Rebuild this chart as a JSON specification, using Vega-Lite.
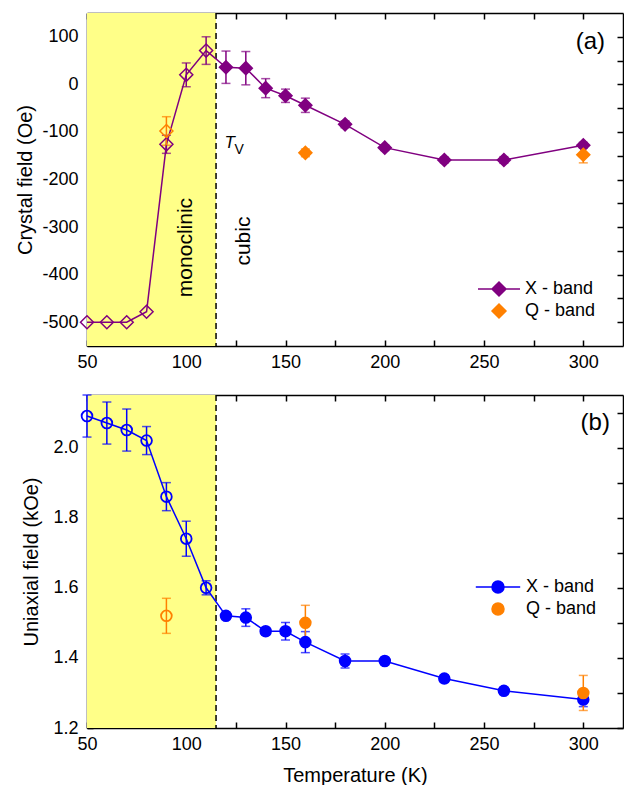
{
  "$schema": "https://vega.github.io/schema/vega-lite/v6.json",
  "padding": {"left": 15, "top": 12, "right": 0, "bottom": 0},
  "spacing": 49,
  "bounds": "flush",
  "resolve": {
    "scale": {"color": "independent", "fill": "independent", "stroke": "independent", "shape": "independent"},
    "legend": {"color": "independent", "fill": "independent", "stroke": "independent", "shape": "independent"}
  },
  "datasets": {
    "cf": [
      {"T": 50, "v": -500, "e": 0, "band": "X - band"},
      {"T": 60, "v": -500, "e": 0, "band": "X - band"},
      {"T": 70, "v": -500, "e": 0, "band": "X - band"},
      {"T": 80, "v": -478, "e": 0, "band": "X - band"},
      {"T": 90, "v": -126, "e": 19, "band": "X - band"},
      {"T": 100, "v": 20, "e": 25, "band": "X - band"},
      {"T": 110, "v": 71, "e": 29, "band": "X - band"},
      {"T": 120, "v": 36, "e": 34, "band": "X - band"},
      {"T": 130, "v": 34, "e": 35, "band": "X - band"},
      {"T": 140, "v": -8, "e": 20, "band": "X - band"},
      {"T": 150, "v": -24, "e": 14, "band": "X - band"},
      {"T": 160, "v": -44, "e": 15, "band": "X - band"},
      {"T": 180, "v": -84, "e": 7, "band": "X - band"},
      {"T": 200, "v": -133, "e": 6, "band": "X - band"},
      {"T": 230, "v": -159, "e": 6, "band": "X - band"},
      {"T": 260, "v": -159, "e": 7, "band": "X - band"},
      {"T": 300, "v": -128, "e": 6, "band": "X - band"},
      {"T": 90, "v": -98, "e": 30, "band": "Q - band"},
      {"T": 160, "v": -144, "e": 8, "band": "Q - band"},
      {"T": 300, "v": -148, "e": 17, "band": "Q - band"}
    ],
    "ua": [
      {"T": 50, "v": 2.09, "e": 0.06, "band": "X - band"},
      {"T": 60, "v": 2.07, "e": 0.06, "band": "X - band"},
      {"T": 70, "v": 2.05, "e": 0.06, "band": "X - band"},
      {"T": 80, "v": 2.02, "e": 0.04, "band": "X - band"},
      {"T": 90, "v": 1.86, "e": 0.04, "band": "X - band"},
      {"T": 100, "v": 1.74, "e": 0.05, "band": "X - band"},
      {"T": 110, "v": 1.60, "e": 0.02, "band": "X - band"},
      {"T": 120, "v": 1.52, "e": 0.01, "band": "X - band"},
      {"T": 130, "v": 1.515, "e": 0.025, "band": "X - band"},
      {"T": 140, "v": 1.476, "e": 0.01, "band": "X - band"},
      {"T": 150, "v": 1.476, "e": 0.025, "band": "X - band"},
      {"T": 160, "v": 1.445, "e": 0.03, "band": "X - band"},
      {"T": 180, "v": 1.391, "e": 0.02, "band": "X - band"},
      {"T": 200, "v": 1.391, "e": 0.01, "band": "X - band"},
      {"T": 230, "v": 1.341, "e": 0.01, "band": "X - band"},
      {"T": 260, "v": 1.306, "e": 0.01, "band": "X - band"},
      {"T": 300, "v": 1.281, "e": 0.02, "band": "X - band"},
      {"T": 90, "v": 1.52, "e": 0.05, "band": "Q - band"},
      {"T": 160, "v": 1.50, "e": 0.05, "band": "Q - band"},
      {"T": 300, "v": 1.30, "e": 0.05, "band": "Q - band"}
    ]
  },
  "vconcat": [
    {
      "width": 536,
      "height": 333,
      "layer": [
        {
          "data": {"values": [{}]},
          "mark": {"type": "rect", "color": "#FFFF88"},
          "encoding": {
            "x": {"datum": 50, "type": "quantitative", "scale": {"domain": [50, 320], "nice": false, "zero": false}, "axis": null},
            "x2": {"datum": 115}
          }
        },
        {
          "data": {"values": [{}]},
          "mark": {"type": "rule", "strokeDash": [6, 4], "strokeWidth": 1.5, "color": "black"},
          "encoding": {"x": {"datum": 115, "type": "quantitative", "axis": null}}
        },
        {
          "data": {"name": "cf"},
          "transform": [{"filter": "datum.band == 'X - band'"}],
          "mark": {"type": "line", "color": "#800080", "strokeWidth": 1.5},
          "encoding": {
            "x": {"field": "T", "type": "quantitative", "axis": {"orient": "bottom", "values": [50, 75, 100, 125, 150, 175, 200, 225, 250, 275, 300], "labelExpr": "datum.value % 50 == 0 ? '' + datum.value : ''", "title": null}},
            "y": {"field": "v", "type": "quantitative", "scale": {"domain": [-550, 150], "nice": false, "zero": false},
              "axis": {"orient": "left", "values": [-500, -450, -400, -350, -300, -250, -200, -150, -100, -50, 0, 50, 100], "labelExpr": "datum.value % 100 == 0 ? '' + datum.value : ''", "labelPadding": 15, "title": "Crystal field (Oe)", "titleX": -62, "titleY": 166.5, "titleAngle": 270, "titleAlign": "center", "titleBaseline": "middle"}}
          }
        },
        {
          "data": {"name": "cf"},
          "transform": [{"filter": "datum.e > 0"}],
          "mark": {"type": "errorbar", "ticks": {"size": 9}, "thickness": 1.5},
          "encoding": {
            "x": {"field": "T", "type": "quantitative", "axis": null},
            "y": {"field": "v", "type": "quantitative", "axis": null},
            "yError": {"field": "e"},
            "color": {"condition": {"test": "datum.band == 'Q - band'", "value": "#FF8000"}, "value": "#800080"}
          }
        },
        {
          "data": {"name": "cf"},
          "mark": {"type": "point", "shape": "diamond", "size": 170, "strokeWidth": 1.5, "opacity": 1},
          "encoding": {
            "x": {"field": "T", "type": "quantitative", "axis": {"orient": "top", "labels": false, "values": [50, 75, 100, 125, 150, 175, 200, 225, 250, 275, 300], "title": null}},
            "y": {"field": "v", "type": "quantitative", "axis": {"orient": "right", "labels": false, "values": [-500, -450, -400, -350, -300, -250, -200, -150, -100, -50, 0, 50, 100], "title": null}},
            "fill": {"condition": [{"test": "datum.T < 115", "value": "transparent"}, {"test": "datum.band == 'Q - band'", "value": "#FF8000"}], "value": "#800080"},
            "stroke": {"condition": {"test": "datum.band == 'Q - band'", "value": "#FF8000"}, "value": "#800080"}
          }
        },
        {
          "data": {"name": "cf"},
          "transform": [{"filter": "false"}],
          "mark": {"type": "point", "filled": true, "opacity": 1, "strokeWidth": 1.5},
          "encoding": {
            "x": {"field": "T", "type": "quantitative", "axis": null},
            "y": {"field": "v", "type": "quantitative", "axis": null},
            "fill": {"field": "band", "type": "nominal", "scale": {"domain": ["X - band", "Q - band"], "range": ["#800080", "#FF8000"]},
              "legend": {"orient": "none", "legendX": 403, "legendY": 267, "title": null, "labelFontSize": 18, "labelFont": "Liberation Sans", "labelColor": "black", "symbolSize": 196, "symbolStrokeWidth": 1.5, "labelOffset": 17, "rowPadding": 2, "padding": 0, "symbolOpacity": 1}},
            "stroke": {"field": "band", "type": "nominal", "scale": {"domain": ["X - band", "Q - band"], "range": ["#800080", "#FF8000"]},
              "legend": {"orient": "none", "legendX": 403, "legendY": 267, "title": null, "labelFontSize": 18, "labelFont": "Liberation Sans", "labelColor": "black", "symbolSize": 196, "symbolStrokeWidth": 1.5, "labelOffset": 17, "rowPadding": 2, "padding": 0, "symbolOpacity": 1}},
            "shape": {"field": "band", "type": "nominal", "scale": {"domain": ["X - band", "Q - band"], "range": ["M-3,0H3M-1,0L0,-1L1,0L0,1Z", "diamond"]},
              "legend": {"orient": "none", "legendX": 403, "legendY": 267, "title": null, "labelFontSize": 18, "labelFont": "Liberation Sans", "labelColor": "black", "symbolSize": 196, "symbolStrokeWidth": 1.5, "labelOffset": 17, "rowPadding": 2, "padding": 0, "symbolOpacity": 1}}
          }
        },
        {
          "data": {"values": [{}]},
          "mark": {"type": "text", "text": "(a)", "fontSize": 24, "font": "Liberation Sans", "color": "black", "align": "center", "baseline": "middle"},
          "encoding": {"x": {"datum": 303.6, "type": "quantitative", "axis": null}, "y": {"datum": 90, "type": "quantitative", "axis": null}}
        },
        {
          "data": {"values": [{}]},
          "mark": {"type": "text", "text": "monoclinic", "fontSize": 21, "font": "Liberation Sans", "color": "black", "align": "center", "baseline": "alphabetic", "angle": 270},
          "encoding": {"x": {"datum": 102.8, "type": "quantitative", "axis": null}, "y": {"datum": -343, "type": "quantitative", "axis": null}}
        },
        {
          "data": {"values": [{}]},
          "mark": {"type": "text", "text": "cubic", "fontSize": 21, "font": "Liberation Sans", "color": "black", "align": "center", "baseline": "alphabetic", "angle": 270},
          "encoding": {"x": {"datum": 132.2, "type": "quantitative", "axis": null}, "y": {"datum": -329.5, "type": "quantitative", "axis": null}}
        },
        {
          "data": {"values": [{}]},
          "mark": {"type": "text", "text": "T", "fontSize": 17, "fontStyle": "italic", "font": "Liberation Sans", "color": "black", "align": "center", "baseline": "alphabetic"},
          "encoding": {"x": {"datum": 121.9, "type": "quantitative", "axis": null}, "y": {"datum": -133.7, "type": "quantitative", "axis": null}}
        },
        {
          "data": {"values": [{}]},
          "mark": {"type": "text", "text": "V", "fontSize": 14, "font": "Liberation Sans", "color": "black", "align": "center", "baseline": "alphabetic"},
          "encoding": {"x": {"datum": 126.7, "type": "quantitative", "axis": null}, "y": {"datum": -146.3, "type": "quantitative", "axis": null}}
        }
      ],
      "resolve": {"axis": {"x": "independent", "y": "independent"}}
    },
    {
      "width": 536,
      "height": 333,
      "layer": [
        {
          "data": {"values": [{}]},
          "mark": {"type": "rect", "color": "#FFFF88"},
          "encoding": {
            "x": {"datum": 50, "type": "quantitative", "scale": {"domain": [50, 320], "nice": false, "zero": false}, "axis": null},
            "x2": {"datum": 115}
          }
        },
        {
          "data": {"values": [{}]},
          "mark": {"type": "rule", "strokeDash": [6, 4], "strokeWidth": 1.5, "color": "black"},
          "encoding": {"x": {"datum": 115, "type": "quantitative", "axis": null}}
        },
        {
          "data": {"name": "ua"},
          "transform": [{"filter": "datum.band == 'X - band'"}],
          "mark": {"type": "line", "color": "#0000FF", "strokeWidth": 1.5},
          "encoding": {
            "x": {"field": "T", "type": "quantitative", "axis": {"orient": "bottom", "values": [50, 75, 100, 125, 150, 175, 200, 225, 250, 275, 300], "labelExpr": "datum.value % 50 == 0 ? '' + datum.value : ''", "title": "Temperature (K)", "titleY": 53, "titleBaseline": "alphabetic"}},
            "y": {"field": "v", "type": "quantitative", "scale": {"domain": [1.2, 2.15], "nice": false, "zero": false},
              "axis": {"orient": "left", "values": [1.2, 1.3, 1.4, 1.5, 1.6, 1.7, 1.8, 1.9, 2.0, 2.1], "labelExpr": "round(datum.value * 10) % 2 == 0 ? format(datum.value, '.1f') : ''", "labelPadding": 15, "title": "Uniaxial field (kOe)", "titleX": -56, "titleY": 166.5, "titleAngle": 270, "titleAlign": "center", "titleBaseline": "middle"}}
          }
        },
        {
          "data": {"name": "ua"},
          "transform": [{"filter": "datum.e > 0"}],
          "mark": {"type": "errorbar", "ticks": {"size": 9}, "thickness": 1.5},
          "encoding": {
            "x": {"field": "T", "type": "quantitative", "axis": null},
            "y": {"field": "v", "type": "quantitative", "axis": null},
            "yError": {"field": "e"},
            "color": {"condition": {"test": "datum.band == 'Q - band'", "value": "#FF8000"}, "value": "#0000FF"}
          }
        },
        {
          "data": {"name": "ua"},
          "mark": {"type": "point", "shape": "circle", "size": 115, "strokeWidth": 1.8, "opacity": 1},
          "encoding": {
            "x": {"field": "T", "type": "quantitative", "axis": {"orient": "top", "labels": false, "values": [50, 75, 100, 125, 150, 175, 200, 225, 250, 275, 300], "title": null}},
            "y": {"field": "v", "type": "quantitative", "axis": {"orient": "right", "labels": false, "values": [1.2, 1.3, 1.4, 1.5, 1.6, 1.7, 1.8, 1.9, 2.0, 2.1], "title": null}},
            "fill": {"condition": [{"test": "datum.T < 115", "value": "transparent"}, {"test": "datum.band == 'Q - band'", "value": "#FF8000"}], "value": "#0000FF"},
            "stroke": {"condition": {"test": "datum.band == 'Q - band'", "value": "#FF8000"}, "value": "#0000FF"}
          }
        },
        {
          "data": {"name": "ua"},
          "transform": [{"filter": "false"}],
          "mark": {"type": "point", "filled": true, "opacity": 1, "strokeWidth": 1.5},
          "encoding": {
            "x": {"field": "T", "type": "quantitative", "axis": null},
            "y": {"field": "v", "type": "quantitative", "axis": null},
            "fill": {"field": "band", "type": "nominal", "scale": {"domain": ["X - band", "Q - band"], "range": ["#0000FF", "#FF8000"]},
              "legend": {"orient": "none", "legendX": 402, "legendY": 183, "title": null, "labelFontSize": 18, "labelFont": "Liberation Sans", "labelColor": "black", "symbolSize": 144, "symbolStrokeWidth": 1.5, "labelOffset": 19, "rowPadding": 4, "padding": 0, "symbolOpacity": 1}},
            "stroke": {"field": "band", "type": "nominal", "scale": {"domain": ["X - band", "Q - band"], "range": ["#0000FF", "#FF8000"]},
              "legend": {"orient": "none", "legendX": 402, "legendY": 183, "title": null, "labelFontSize": 18, "labelFont": "Liberation Sans", "labelColor": "black", "symbolSize": 144, "symbolStrokeWidth": 1.5, "labelOffset": 19, "rowPadding": 4, "padding": 0, "symbolOpacity": 1}},
            "shape": {"field": "band", "type": "nominal", "scale": {"domain": ["X - band", "Q - band"], "range": ["M-3.7,0H3.7M-1,0A1,1,0,1,0,1,0A1,1,0,1,0,-1,0Z", "circle"]},
              "legend": {"orient": "none", "legendX": 402, "legendY": 183, "title": null, "labelFontSize": 18, "labelFont": "Liberation Sans", "labelColor": "black", "symbolSize": 144, "symbolStrokeWidth": 1.5, "labelOffset": 19, "rowPadding": 4, "padding": 0, "symbolOpacity": 1}}
          }
        },
        {
          "data": {"values": [{}]},
          "mark": {"type": "text", "text": "(b)", "fontSize": 24, "font": "Liberation Sans", "color": "black", "align": "center", "baseline": "middle"},
          "encoding": {"x": {"datum": 306, "type": "quantitative", "axis": null}, "y": {"datum": 2.069, "type": "quantitative", "axis": null}}
        }
      ],
      "resolve": {"axis": {"x": "independent", "y": "independent"}}
    }
  ],
  "config": {
    "view": {"stroke": null},
    "font": "Liberation Sans",
    "axis": {
      "domainColor": "black", "domainWidth": 1.5,
      "tickColor": "black", "tickWidth": 1.5, "tickSize": -6,
      "labelFont": "Liberation Sans", "labelFontSize": 18, "labelColor": "black",
      "labelPadding": 13, "labelFlush": false, "labelOverlap": false,
      "titleFont": "Liberation Sans", "titleFontSize": 20, "titleFontWeight": "normal", "titleColor": "black",
      "grid": false
    }
  }
}
